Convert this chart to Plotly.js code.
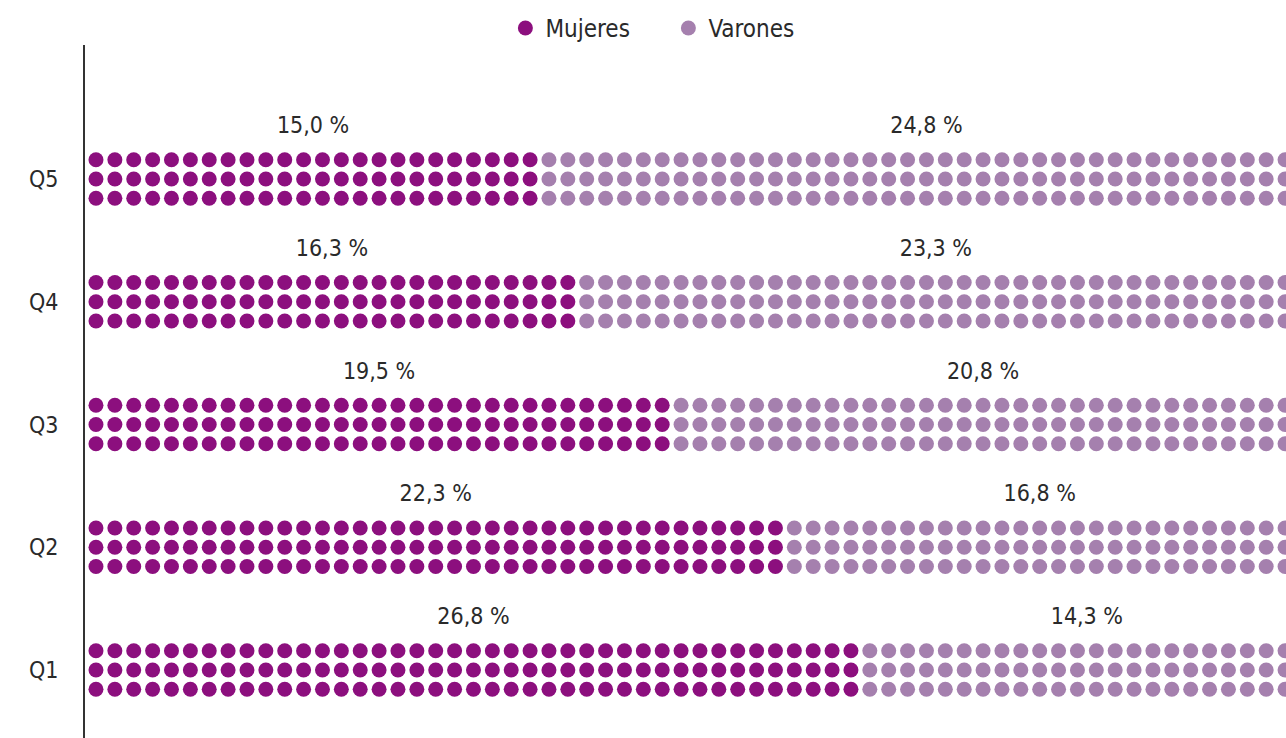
<!DOCTYPE html>
<html>
<head>
<meta charset="utf-8">
<script src="https://cdn.plot.ly/plotly-3.0.1.min.js"></script>
<style>html,body{margin:0;padding:0;background:#fff;}#chart{width:1286px;height:738px;}</style>
</head>
<body>
<div id="chart"></div>
<script>
// Data (Q1..Q5)
const categories = ['Q1', 'Q2', 'Q3', 'Q4', 'Q5'];
const mujeres = [26.8, 22.3, 19.5, 16.3, 15.0];
const varones = [14.3, 16.8, 20.8, 23.3, 24.8];
// number of dots per column of three
const mujeresDots = [41, 37, 31, 26, 24];
const varonesDots = [24, 27, 33, 38, 41];
const seriesNames = ['Mujeres', 'Varones'];

const colM = '#8C0F7E';
const colV = '#A580AE';
const rowOff = [0.157, 0, -0.157];
const FONT = '"Liberation Sans Narrow", "DejaVu Sans Condensed", "Roboto", sans-serif';

function fmt(v) { return v.toFixed(1).replace('.', ',') + ' %'; }

const mx = [], my = [], vx = [], vy = [];
const tx = [], ty = [], tt = [];
categories.forEach((c, i) => {
  const nM = mujeresDots[i], nV = varonesDots[i];
  rowOff.forEach(o => {
    for (let k = 0; k < nM; k++) { mx.push(k); my.push(i + o); }
    for (let k = 0; k < nV; k++) { vx.push(nM + k); vy.push(i + o); }
  });
  tx.push((nM - 1) / 2); ty.push(i + 0.42); tt.push(fmt(mujeres[i]));
  tx.push(nM + (nV - 1) / 2); ty.push(i + 0.42); tt.push(fmt(varones[i]));
});

const traces = [
  { type: 'scatter', mode: 'markers', name: seriesNames[0], x: mx, y: my,
    marker: { color: colM, size: 15, line: { width: 0 } }, hoverinfo: 'skip' },
  { type: 'scatter', mode: 'markers', name: seriesNames[1], x: vx, y: vy,
    marker: { color: colV, size: 15, line: { width: 0 } }, hoverinfo: 'skip' },
  { type: 'scatter', mode: 'text', x: tx, y: ty, text: tt, showlegend: false,
    textposition: 'middle center', cliponaxis: false,
    textfont: { family: FONT, size: 23, color: '#2a2a2a' }, hoverinfo: 'skip' }
];

const layout = {
  width: 1286, height: 738,
  margin: { l: 85, r: 0, t: 45, b: 0, autoexpand: false },
  paper_bgcolor: '#fff', plot_bgcolor: '#fff',
  font: { family: FONT, color: '#2a2a2a' },
  showlegend: true,
  legend: { orientation: 'h', xref: 'container', yref: 'container', x: 0.393, xanchor: 'left',
    y: 0.992, yanchor: 'top', font: { family: FONT, size: 24, color: '#2a2a2a' },
    itemsizing: 'trace', itemwidth: 30, entrywidth: 118, entrywidthmode: 'pixels' },
  xaxis: { range: [-0.582, 63.05], visible: false, showgrid: false, zeroline: false, fixedrange: true },
  yaxis: { range: [-0.554, 5.092], tickvals: [0, 1, 2, 3, 4], ticktext: categories,
    showgrid: false, zeroline: false, showline: true, linecolor: '#333', linewidth: 2,
    ticks: 'outside', ticklen: 20, tickcolor: 'rgba(0,0,0,0)',
    tickfont: { family: FONT, size: 23, color: '#2a2a2a' }, fixedrange: true }
};

Plotly.newPlot('chart', traces, layout, { displayModeBar: false, staticPlot: true });
</script>
</body>
</html>
